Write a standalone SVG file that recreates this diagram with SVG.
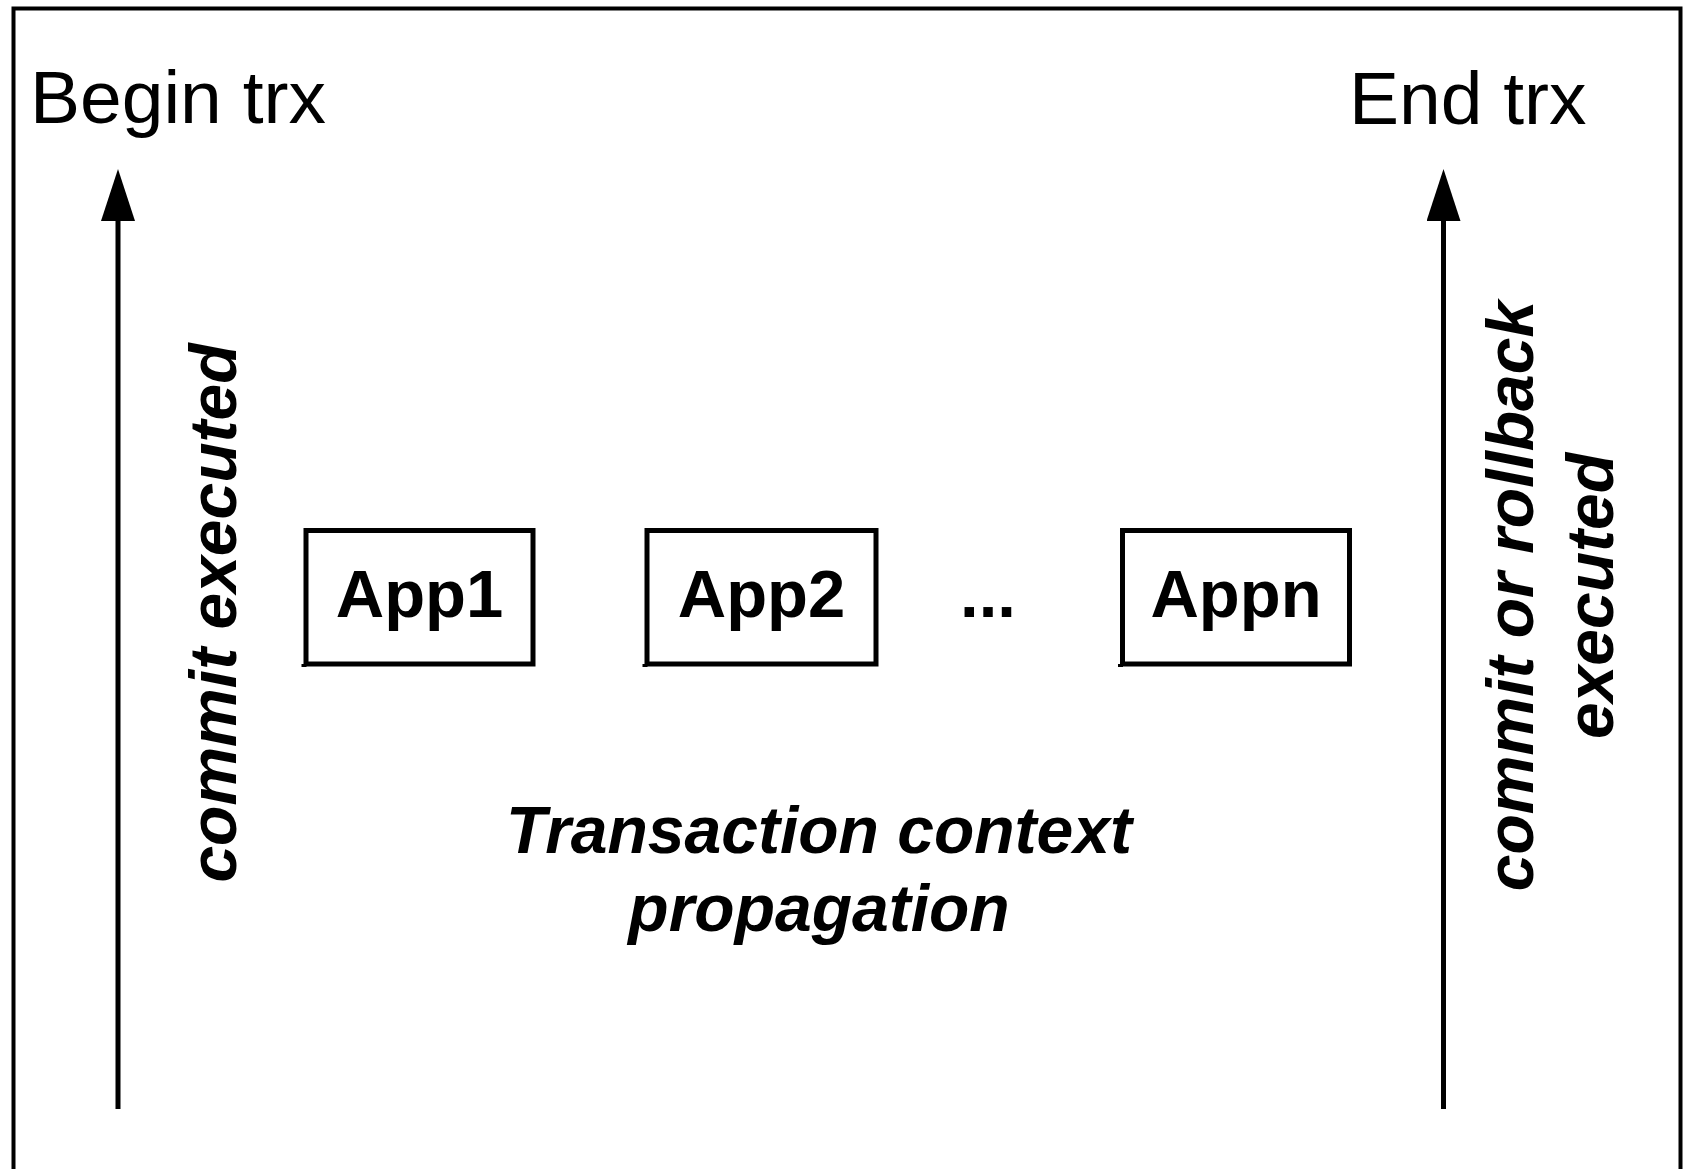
<svg xmlns="http://www.w3.org/2000/svg" width="1687" height="1169" viewBox="0 0 1687 1169">
  <style>
    .frame { fill: none; stroke: #000; stroke-width: 4; }
    .box { fill: #fff; stroke: #000; stroke-width: 5; }
    .tick { fill: none; stroke: #000; stroke-width: 5; }
    .title { font-family: "Liberation Sans", Arial, sans-serif; font-size: 75px; fill: #000; }
    .app { font-family: "Liberation Sans", Arial, sans-serif; font-size: 67px; font-weight: bold; fill: #000; text-anchor: middle; }
    .note { font-family: "Liberation Sans", Arial, sans-serif; font-size: 66px; font-weight: bold; font-style: italic; fill: #000; text-anchor: middle; }
    .conn { fill: none; stroke: #000; stroke-width: 5; }
  </style>
  <defs>
    <!-- solid triangular head, 52 long and 34 wide -->
    <marker id="arrow" markerUnits="userSpaceOnUse" markerWidth="54" markerHeight="36" refX="0" refY="17" orient="auto">
      <path d="M0,0 L52,17 L0,34 Z" fill="#000"/>
    </marker>
  </defs>

  <rect width="1687" height="1169" fill="#fff"/>
  <!-- outer frame (bottom edge runs past the canvas) -->
  <rect class="frame" x="13.5" y="8.5" width="1667" height="1200"/>

  <!-- lifecycle labels -->
  <g id="begin-trx">
    <text class="title" x="30" y="123">Begin trx</text>
  </g>
  <g id="end-trx">
    <text class="title" x="1349" y="124">End trx</text>
  </g>

  <!-- connectors: timeline arrows -->
  <g id="connectors">
    <line class="conn" x1="118" y1="1109" x2="118" y2="221" marker-end="url(#arrow)"/>
    <line class="conn" x1="1443.5" y1="1109" x2="1443.5" y2="221" marker-end="url(#arrow)"/>
  </g>

  <!-- rotated captions -->
  <g id="commit-label">
    <text class="note" transform="translate(236,613) rotate(-90)">commit executed</text>
  </g>
  <g id="commit-rollback-label">
    <text class="note" transform="translate(1533,596) rotate(-90)">commit or rollback</text>
    <text class="note" transform="translate(1613,596) rotate(-90)">executed</text>
  </g>

  <!-- application nodes -->
  <g id="app1">
    <rect class="box" x="306" y="530.5" width="227" height="133.5"/>
    <path class="tick" d="M304,664 L304,667"/>
    <text class="app" x="419.5" y="617">App1</text>
  </g>
  <g id="app2">
    <rect class="box" x="647" y="530.5" width="229" height="133.5"/>
    <path class="tick" d="M645,664 L645,667"/>
    <text class="app" x="761.5" y="617">App2</text>
  </g>
  <g id="ellipsis">
    <text class="app" x="988" y="617">...</text>
  </g>
  <g id="appn">
    <rect class="box" x="1122.5" y="530.5" width="227" height="133.5"/>
    <path class="tick" d="M1120.5,664 L1120.5,667"/>
    <text class="app" x="1236" y="617">Appn</text>
  </g>

  <!-- central caption -->
  <g id="propagation-label">
    <text class="note" x="819" y="853">Transaction context</text>
    <text class="note" x="819" y="931">propagation</text>
  </g>
</svg>
